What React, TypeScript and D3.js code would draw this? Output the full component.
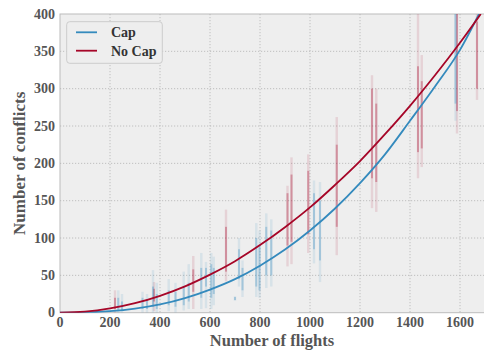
import * as d3 from "d3";

// fitted curves
const capX = [0, 100, 200, 300, 400, 500, 600, 700, 800, 900, 1000, 1100, 1200, 1300, 1400, 1500, 1600, 1676];
const capY = [0, 0.35, 2, 5.4, 11, 19.5, 31, 45, 63, 84.5, 110, 139.5, 173.5, 212, 257, 303, 352, 400];
const noCapX = [0, 100, 200, 300, 400, 500, 600, 700, 800, 900, 1000, 1100, 1200, 1300, 1400, 1500, 1600, 1683];
const noCapY = [0, 1.4, 5.7, 12.7, 22.6, 35.3, 51, 69, 90.5, 114.5, 141, 171, 203, 239, 277, 318, 361.5, 400];

// sample clouds: [flights, min, max, denseMin, denseMax]
const capStrips = [
  [233, 0, 30, 3, 20], [248, 0, 25, 3, 15], [330, 0, 28, 5, 20], [348, 0, 25, 5, 18],
  [372, 0, 57, 8, 35], [387, 0, 40, 5, 25], [435, 2, 45, 10, 30], [462, 0, 40, 8, 28],
  [495, 3, 55, 10, 35], [515, 5, 65, 15, 40], [565, 5, 80, 20, 60], [584, 6, 68, 35, 60],
  [605, 5, 80, 20, 65], [615, 10, 75, 25, 60], [700, 16, 22, 17, 21], [716, 35, 100, 45, 85],
  [730, 21, 70, 30, 60], [785, 21, 120, 35, 100], [798, 20, 110, 30, 90], [825, 33, 133, 50, 115],
  [845, 35, 125, 50, 110], [1016, 66, 177, 85, 160], [1040, 41, 175, 70, 150], [1582, 257, 400, 280, 400],
];
const noCapStrips = [
  [220, 0, 30, 5, 20], [376, 2, 41, 15, 32], [533, 5, 76, 28, 58], [664, 42, 138, 55, 115],
  [910, 62, 170, 90, 160], [926, 65, 208, 95, 185], [993, 80, 212, 105, 190], [1107, 77, 262, 115, 225],
  [1248, 140, 318, 180, 300], [1265, 135, 300, 175, 280], [1432, 180, 400, 215, 330], [1447, 195, 345, 220, 310],
  [1588, 240, 400, 270, 400], [1668, 285, 400, 300, 390],
];

const xTicks = [0, 200, 400, 600, 800, 1000, 1200, 1400, 1600];
const yTicks = [0, 50, 100, 150, 200, 250, 300, 350, 400];

const BLUE = "#348ABD";
const RED = "#A60628";

export default function App() {
  const W = 484, H = 351;
  const m = { left: 60, right: 485, top: 14, bottom: 312.7 };
  const x = d3.scaleLinear().domain([0, 1700]).range([m.left, m.right]);
  const y = d3.scaleLinear().domain([0, 400]).range([m.bottom, m.top]);

  const capPath = d3.line<number>().x((d, i) => x(capX[i])).y((d) => y(d)).curve(d3.curveMonotoneX)(capY);
  const noCapPath = d3.line<number>().x((d, i) => x(noCapX[i])).y((d) => y(d)).curve(d3.curveMonotoneX)(noCapY);

  const font = "'Liberation Serif', 'DejaVu Serif', serif";

  const strips = (data: number[][], color: string, key: string) =>
    data.map((s, i) => (
      <g key={key + i}>
        <rect x={x(s[0]) - 1.2} y={y(s[2])} width={2.4} height={y(s[1]) - y(s[2])} fill={color} opacity={0.12} />
        <rect x={x(s[0]) - 1} y={y(s[4])} width={2} height={y(s[3]) - y(s[4])} fill={color} opacity={0.32} />
      </g>
    ));

  return (
    <div style={{ position: "absolute", left: 0, top: 0 }}>
      <svg width={W} height={H} style={{ display: "block" }}>
        <defs>
          <clipPath id="plot">
            <rect x={m.left} y={m.top} width={m.right - m.left} height={m.bottom - m.top} />
          </clipPath>
        </defs>
        <rect width={W} height={H} fill="#fff" />
        <rect x={m.left} y={m.top} width={m.right - m.left} height={m.bottom - m.top} fill="#eeeeee" stroke="#bcbcbc" strokeWidth={1} />
        {xTicks.slice(1).map((t) => (
          <line key={"gx" + t} x1={x(t)} x2={x(t)} y1={m.top} y2={m.bottom} stroke="#b2b2b2" strokeWidth={0.8} strokeDasharray="1.2,1.8" />
        ))}
        {yTicks.slice(1, -1).map((t) => (
          <line key={"gy" + t} x1={m.left} x2={m.right} y1={y(t)} y2={y(t)} stroke="#b2b2b2" strokeWidth={0.8} strokeDasharray="1.2,1.8" />
        ))}
        <g clipPath="url(#plot)">
          {strips(noCapStrips, RED, "r")}
          {strips(capStrips, BLUE, "b")}
          <path d={capPath ?? ""} fill="none" stroke={BLUE} strokeWidth={1.8} />
          <path d={noCapPath ?? ""} fill="none" stroke={RED} strokeWidth={1.8} />
        </g>
        {xTicks.map((t) => (
          <text key={"tx" + t} x={x(t)} y={327} textAnchor="middle" fontFamily={font} fontWeight="bold" fontSize={14} fill="#555">
            {t}
          </text>
        ))}
        {yTicks.map((t) => (
          <text key={"ty" + t} x={55} y={y(t) + 4.5} textAnchor="end" fontFamily={font} fontWeight="bold" fontSize={14} fill="#555">
            {t}
          </text>
        ))}
        <text x={272} y={346} textAnchor="middle" fontFamily={font} fontWeight="bold" fontSize={16.5} fill="#555">
          Number of flights
        </text>
        <text transform={`translate(25,${(m.top + m.bottom) / 2}) rotate(-90)`} textAnchor="middle" fontFamily={font} fontWeight="bold" fontSize={17} fill="#555">
          Number of conflicts
        </text>
        <g>
          <rect x={66.7} y={21.7} width={95.6} height={41.6} rx={3} fill="#eeeeee" stroke="#cccccc" strokeWidth={1} />
          <line x1={76} x2={97} y1={32.3} y2={32.3} stroke={BLUE} strokeWidth={1.8} />
          <line x1={76} x2={97} y1={50.7} y2={50.7} stroke={RED} strokeWidth={1.8} />
          <text x={111} y={37} fontFamily={font} fontWeight="bold" fontSize={14} fill="#333">Cap</text>
          <text x={111} y={55.5} fontFamily={font} fontWeight="bold" fontSize={14} fill="#333">No Cap</text>
        </g>
      </svg>
    </div>
  );
}
